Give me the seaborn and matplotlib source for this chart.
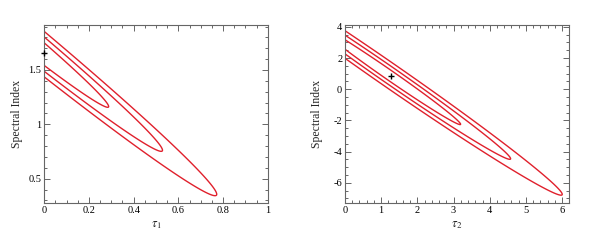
import numpy as np
import pandas as pd
import matplotlib
matplotlib.use("Agg")
import matplotlib.pyplot as plt
from matplotlib.ticker import MultipleLocator, FixedLocator, FixedFormatter
import seaborn as sns

# ---------------- data ----------------
# best-fit markers
tau1_best = [0.0]
index1_best = [1.654]
tau2_best = [1.26]
index2_best = [0.85]

# confidence-contour surfaces (sheared quadratic), one per panel
# centre x, ridge intercept at tau=0, ridge slope, width factor, contour levels
left_center_x = -0.33
left_ridge_intercept = 1.645
left_ridge_slope = -1.67
left_width = 0.199
left_levels = [0.382, 0.738, 1.214]

right_center_x = 1.2
right_ridge_intercept = 2.87
right_ridge_slope = -1.60
right_width = 0.19
right_levels = [3.98, 11.40, 23.07]

# axes ranges and ticks
left_xlim = (0.0, 1.0)
left_ylim = (0.273, 1.914)
left_xticks = [0, 0.2, 0.4, 0.6, 0.8, 1.0]
left_xticklabels = ["0", "0.2", "0.4", "0.6", "0.8", "1"]
left_yticks = [0.5, 1.0, 1.5]
left_yticklabels = ["0.5", "1", "1.5"]

right_xlim = (0.0, 6.19)
right_ylim = (-7.31, 4.12)
right_xticks = [0, 1, 2, 3, 4, 5, 6]
right_xticklabels = ["0", "1", "2", "3", "4", "5", "6"]
right_yticks = [-6, -4, -2, 0, 2, 4]
right_yticklabels = ["-6", "-4", "-2", "0", "2", "4"]

# ---------------- style ----------------
sns.set_style("ticks")
plt.rcParams["font.family"] = ["Liberation Serif", "DejaVu Serif"]
plt.rcParams["mathtext.fontset"] = "stix"

RED = "#e0202c"
FRAME = "#666666"

fig = plt.figure(figsize=(6.0, 2.4), dpi=100)
ax1 = fig.add_axes([44.3 / 600, 36.7 / 240, 223.4 / 600, 178.3 / 240])
ax2 = fig.add_axes([345 / 600, 36.7 / 240, 224 / 600, 178.3 / 240])


def draw_panel(ax, xlim, ylim, x0, c, m, k, levels, bx, by,
               xticks, xtl, yticks, ytl, xminor, yminor, xlabel):
    xs = np.linspace(xlim[0], xlim[1], 900)
    ys = np.linspace(ylim[0], ylim[1], 900)
    X, Y = np.meshgrid(xs, ys)
    chi = (X - x0) ** 2 + ((Y - (c + m * X)) / k) ** 2
    ax.contour(X, Y, chi, levels=levels, colors=RED, linewidths=1.0)
    df = pd.DataFrame({"x": bx, "y": by})
    sns.scatterplot(data=df, x="x", y="y", ax=ax, marker="+", s=25,
                    color="black", linewidth=1.0, clip_on=False, zorder=5)
    ax.set_xlim(*xlim)
    ax.set_ylim(*ylim)
    ax.xaxis.set_major_locator(FixedLocator(xticks))
    ax.xaxis.set_major_formatter(FixedFormatter(xtl))
    ax.yaxis.set_major_locator(FixedLocator(yticks))
    ax.yaxis.set_major_formatter(FixedFormatter(ytl))
    ax.xaxis.set_minor_locator(MultipleLocator(xminor))
    ax.yaxis.set_minor_locator(MultipleLocator(yminor))
    ax.tick_params(which="both", direction="in", top=True, right=True,
                   color=FRAME, width=0.7, labelsize=7.5, labelcolor="black")
    ax.tick_params(which="major", length=4, pad=2)
    ax.tick_params(which="minor", length=2)
    for s in ax.spines.values():
        s.set_color(FRAME)
        s.set_linewidth(0.8)
        s.set_visible(True)
    ax.set_xlabel(xlabel, fontsize=9)
    ax.set_ylabel("Spectral Index", fontsize=8.5)
    ax.xaxis.label.set_va("center")
    ax.yaxis.label.set_va("center")
    ax.xaxis.set_label_coords(0.5, -0.12)
    ax.yaxis.set_label_coords(-0.123, 0.5)


draw_panel(ax1, left_xlim, left_ylim, left_center_x, left_ridge_intercept,
           left_ridge_slope, left_width, left_levels, tau1_best, index1_best,
           left_xticks, left_xticklabels, left_yticks, left_yticklabels,
           0.05, 0.1, r"$\tau_1$")
draw_panel(ax2, right_xlim, right_ylim, right_center_x, right_ridge_intercept,
           right_ridge_slope, right_width, right_levels, tau2_best, index2_best,
           right_xticks, right_xticklabels, right_yticks, right_yticklabels,
           0.2, 0.5, r"$\tau_2$")

fig.savefig("out.png", dpi=100, facecolor="white")
